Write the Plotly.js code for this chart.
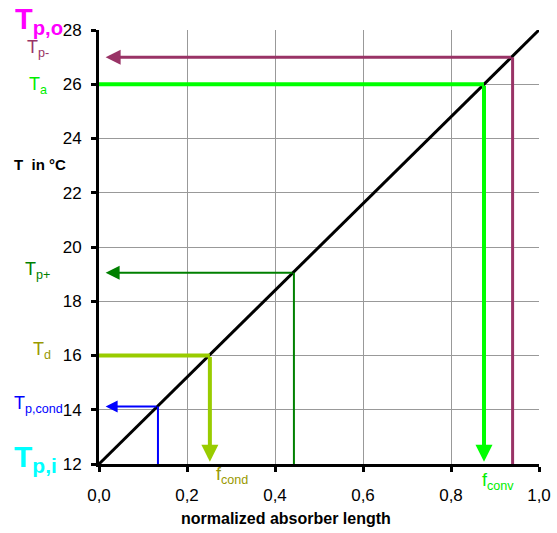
<!DOCTYPE html>
<html><head><meta charset="utf-8">
<script src="https://cdn.plot.ly/plotly-3.0.1.min.js"></script>
<style>body{margin:0;background:#fff}#c{width:557px;height:533px}</style>
</head><body><div id="c"></div>
<script>
// diagonal T = f(normalized length)
const diagX = [0, 1];
const diagY = [12, 28];
// arrow paths (x values, y values)
const tpMinusX = [0.94, 0.94, 0.015];
const tpMinusY = [12, 27, 27];
const taX = [0, 0.875, 0.875];
const taY = [26, 26, 12.08];
const tpPlusX = [0.443, 0.443, 0.015];
const tpPlusY = [12, 19.05, 19.05];
const tdX = [0, 0.252, 0.252];
const tdY = [16, 16, 12.08];
const tpCondX = [0.134, 0.134, 0.015];
const tpCondY = [12, 14.12, 14.12];
// ticks
const xTicks = [0, 0.2, 0.4, 0.6, 0.8, 1.0];
const xTickText = ['0,0', '0,2', '0,4', '0,6', '0,8', '1,0'];
const yTicks = [12, 14, 16, 18, 20, 22, 24, 26, 28];

const F = 'Liberation Sans, Arial, sans-serif';
const paths = [
  {x: tpMinusX, y: tpMinusY, c: '#993366', w: 3, s: 1.0},
  {x: taX, y: taY, c: '#00FF00', w: 4, s: 0.85},
  {x: tpPlusX, y: tpPlusY, c: '#008000', w: 2, s: 1.4},
  {x: tdX, y: tdY, c: '#99CC00', w: 4, s: 0.85},
  {x: tpCondX, y: tpCondY, c: '#0000FF', w: 2, s: 1.2}
];
const traces = [
  {x: diagX, y: diagY, type: 'scatter', mode: 'lines', line: {color: '#000', width: 3}, hoverinfo: 'skip'}
];
const arrows = [];
paths.forEach(p => {
  const n = p.x.length;
  // line up to the corner; last segment drawn as an arrow annotation
  traces.push({x: p.x.slice(0, n - 1), y: p.y.slice(0, n - 1), type: 'scatter', mode: 'lines',
    line: {color: p.c, width: p.w}, hoverinfo: 'skip'});
  arrows.push({xref: 'x', yref: 'y', axref: 'x', ayref: 'y', x: p.x[n - 1], y: p.y[n - 1],
    ax: p.x[n - 2], ay: p.y[n - 2], text: '', showarrow: true, arrowhead: 2, arrowsize: p.s,
    arrowwidth: p.w, arrowcolor: p.c, standoff: 0});
});

function lab(text, px, yv, color, size, bold, yref) {
  return {text: bold ? '<b>' + text + '</b>' : text, xref: 'paper', yref: yref || 'y', x: px, y: yv,
    showarrow: false, xanchor: 'left', yanchor: 'middle', font: {family: F, size: size, color: color}};
}
const annotations = arrows.concat([
  lab('T<sub>p,o</sub>', -0.195, 1.02, '#FF00FF', 29, true, 'paper'),
  lab('T<sub>p-</sub>', -0.168, 27.3, '#993366', 18),
  lab('T<sub>a</sub>', -0.164, 25.95, '#00EE00', 18),
  lab('T\u00a0\u00a0in\u00a0°C', -0.197, 23.06, '#000', 15, true),
  lab('T<sub>p+</sub>', -0.173, 19.15, '#008000', 18),
  lab('T<sub>d</sub>', -0.155, 16.2, '#999900', 18),
  lab('T<sub>p,cond</sub>', -0.197, 14.2, '#0000FF', 18),
  lab('T<sub>p,i</sub>', -0.197, 12.22, '#00FFFF', 30, true),
  {text: 'f<sub>cond</sub>', xref: 'x', yref: 'paper', x: 0.261, y: -0.027, showarrow: false,
   xanchor: 'left', yanchor: 'middle', font: {family: F, size: 18, color: '#999900'}},
  {text: 'f<sub>conv</sub>', xref: 'x', yref: 'paper', x: 0.866, y: -0.04, showarrow: false,
   xanchor: 'left', yanchor: 'middle', font: {family: F, size: 18, color: '#00EE00'}},
  {text: '<b>normalized absorber length</b>', xref: 'paper', yref: 'paper', x: 0.425, y: -0.125, showarrow: false,
   xanchor: 'center', yanchor: 'middle', font: {family: F, size: 16, color: '#000'}}
]);

const layout = {
  width: 557, height: 533,
  margin: {l: 99, r: 18, t: 30, b: 69},
  paper_bgcolor: '#fff', plot_bgcolor: '#fff',
  showlegend: false,
  font: {family: F, size: 17, color: '#000'},
  xaxis: {range: [0, 1], tickvals: xTicks, ticktext: xTickText, showgrid: true, gridcolor: '#999', gridwidth: 1,
    zeroline: false, showline: true, linecolor: '#000', linewidth: 3, ticks: 'outside', ticklen: 5, tickwidth: 3,
    tickcolor: '#000', ticklabelstandoff: 9, tickfont: {family: F, size: 17}},
  yaxis: {range: [12, 28], tickvals: yTicks, showgrid: true, gridcolor: '#999', gridwidth: 1,
    zeroline: false, showline: true, linecolor: '#000', linewidth: 3, ticks: 'outside', ticklen: 5, tickwidth: 3,
    tickcolor: '#000', ticklabelstandoff: 6, tickfont: {family: F, size: 17}},
  annotations: annotations
};
Plotly.newPlot('c', traces, layout, {displayModeBar: false, staticPlot: true});
</script></body></html>
